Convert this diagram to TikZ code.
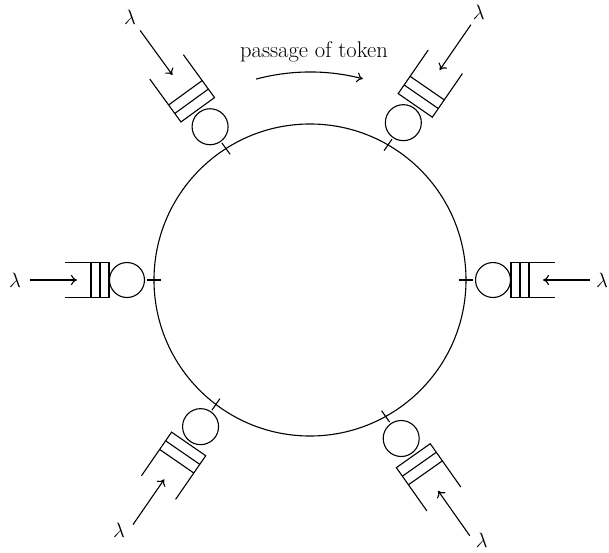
\documentclass[tikz,border=0pt]{standalone}
\usepackage{amsmath,amssymb}
\usepackage{tikz}
\usetikzlibrary{arrows.meta}

\begin{document}
\begin{tikzpicture}[
      x=1pt, y=1pt, line width=1.1pt,
      font=\fontsize{22.6}{27}\selectfont,
      server/.style={draw, circle, minimum size=35pt, inner sep=0pt},
      lam/.style={inner sep=0pt},
      feed/.style={-{To[length=6pt, width=10pt]}}]

    %% Frame: the ring is centred on the origin, one unit is one pixel of the page.
    \useasboundingbox (-310,280) rectangle (299,-272);
    \coordinate (ctr) at (0,0);
    \draw (ctr) circle[radius=156];

    %% ---- token passing round the ring ----
    \coordinate (tokA) at (105:208);
    \draw[feed] (tokA) arc[start angle=105, end angle=75.3, radius=208];
    \node (tok) at (4,228) {passage of token};

    %% ---- left and right stations (axis along the diameter) ----
    \begin{scope}[shift={(180:156)}, rotate=180]
      \draw (-7,0) -- (7,0);
      \node[server] (srvL) at (27,0) {};
      \draw (89,17.5) -- (45,17.5) -- (45,-17.5) -- (89,-17.5)
            (54,17.5) -- (54,-17.5) (63,17.5) -- (63,-17.5);
      \coordinate (tipL) at (77,0);
      \coordinate (inL) at (124,0);
    \end{scope}
    \node[lam] (lamL) at ([xshift=-15]inL) {$\lambda$};
    \draw[feed] (inL) -- (tipL);

    \begin{scope}[shift={(0:156)}]
      \draw (-7,0) -- (7,0);
      \node[server] (srvR) at (27,0) {};
      \draw (89,17.5) -- (45,17.5) -- (45,-17.5) -- (89,-17.5)
            (54,17.5) -- (54,-17.5) (63,17.5) -- (63,-17.5);
      \coordinate (tipR) at (77,0);
      \coordinate (inR) at (124,0);
    \end{scope}
    \node[lam] (lamR) at ([xshift=12]inR) {$\lambda$};
    \draw[feed] (inR) -- (tipR);

    %% ---- slanted stations: the queue leans a few degrees off the radius ----
    \begin{scope}[shift={(60:156)}, rotate=55.4]
      \draw (-7,0) -- (7,0);
      \node[server, minimum size=36pt] (srvTR) at (27,0) {};
      \draw (101,20.75) -- (48,20.75) -- (48,-20.75) -- (101,-20.75)
            (58.5,20.75) -- (58.5,-20.75) (69,20.75) -- (69,-20.75);
      \coordinate (tipTR) at (91,0);
      \coordinate (inTR) at (146,0);
    \end{scope}
    \node[lam] (lamTR) at ([shift={(8,12)}]inTR) {$\lambda$};
    \draw[feed] (inTR) -- (tipTR);

    \begin{scope}[shift={(122.6:156)}, rotate=126]
      \draw (-7,0) -- (7,0);
      \node[server, minimum size=36pt] (srvTL) at (27,0) {};
      \draw (101,20.75) -- (48,20.75) -- (48,-20.75) -- (101,-20.75)
            (58.5,20.75) -- (58.5,-20.75) (69,20.75) -- (69,-20.75);
      \coordinate (tipTL) at (91,0);
      \coordinate (inTL) at (146,0);
    \end{scope}
    \node[lam] (lamTL) at ([shift={(-10,13)}]inTL) {$\lambda$};
    \draw[feed] (inTL) -- (tipTL);

    \begin{scope}[shift={(232.9:156)}, rotate=235.4]
      \draw (-7,0) -- (7,0);
      \node[server, minimum size=36pt] (srvBL) at (27,0) {};
      \draw (101,20.75) -- (48,20.75) -- (48,-20.75) -- (101,-20.75)
            (58.5,20.75) -- (58.5,-20.75) (69,20.75) -- (69,-20.75);
      \coordinate (tipBL) at (91,0);
      \coordinate (inBL) at (146,0);
    \end{scope}
    \node[lam] (lamBL) at ([shift={(-14,-6)}]inBL) {$\lambda$};
    \draw[feed] (inBL) -- (tipBL);

    \begin{scope}[shift={(299:156)}, rotate=305.2]
      \draw (-7,0) -- (7,0);
      \node[server, minimum size=36pt] (srvBR) at (27,0) {};
      \draw (101,20.75) -- (48,20.75) -- (48,-20.75) -- (101,-20.75)
            (58.5,20.75) -- (58.5,-20.75) (69,20.75) -- (69,-20.75);
      \coordinate (tipBR) at (91,0);
      \coordinate (inBR) at (146,0);
    \end{scope}
    \node[lam] (lamBR) at ([shift={(12,-5)}]inBR) {$\lambda$};
    \draw[feed] (inBR) -- (tipBR);
  \end{tikzpicture}
\end{document}
